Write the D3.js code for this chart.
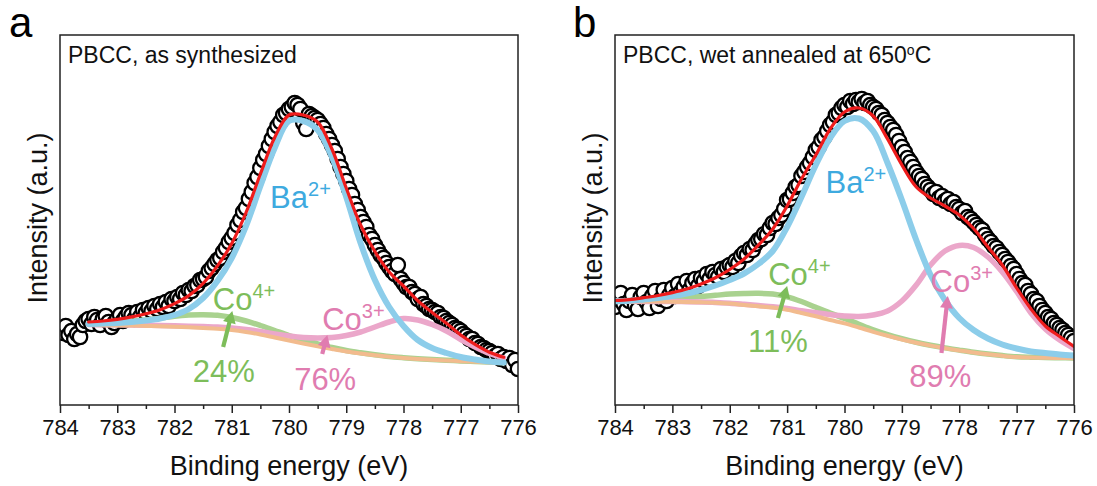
<!DOCTYPE html>
<html><head><meta charset="utf-8">
<script src="https://cdn.jsdelivr.net/npm/d3@7"></script>
<style>
body{margin:0;background:#fff}
svg{display:block}
text{font-family:"Liberation Sans",Arial,Helvetica,sans-serif}
</style>
</head><body>
<svg id="chart" width="1097" height="486"></svg>
<script>
// ---------------- DATA ----------------
const tickLabels = [784, 783, 782, 781, 780, 779, 778, 777, 776];
const minorTicks = [783.5, 782.5, 781.5, 780.5, 779.5, 778.5, 777.5, 776.5];

// measured scan: 784 -> 776 eV, 0.05 eV step
const scanEnergy = d3.range(161).map(i => +(784 - 0.05 * i).toFixed(2));

// Panel a : PBCC, as synthesized
const fitEnergyA = [783.5, 783.25, 783, 782.75, 782.5, 782.25, 782, 781.75, 781.5, 781.25, 781, 780.75, 780.5, 780.25, 780, 779.75, 779.5, 779.25, 779, 778.75, 778.5, 778.25, 778, 777.75, 777.5, 777.25, 777, 776.75, 776.5, 776.25];
const backgroundA = [80, 79.8, 79.6, 79.4, 79.1, 78.8, 78.3, 77.7, 77, 76.3, 75, 73, 70.5, 67.5, 64.5, 61.5, 58.7, 56, 53.5, 51.5, 49.7, 48.2, 47, 46, 45.2, 44.5, 43.8, 43.2, 42.6, 42];
const co4A = [81.5, 81.8, 82.6, 83.9, 85.1, 86.8, 88.8, 90, 90.3, 89.7, 87.5, 84, 79.5, 74.5, 69.5, 65, 61.2, 57.5, 54.5, 52.2, 50.2, 48.5, 47.3, 46.3, 45.5, 44.8, 44.1, 43.5, 42.9, 42.3];
const co3A = [80.5, 80.3, 80.2, 80, 79.8, 79.6, 79.2, 78.8, 78.4, 78, 77, 75.5, 73.5, 71, 69, 67.5, 67, 67.5, 69.5, 73, 78, 83, 86.5, 85, 80.5, 74, 65.5, 58, 51.5, 47];
const ba2A = [81, 81.5, 82, 83, 84.5, 86.5, 90, 96, 107, 124, 147, 179, 219, 257, 284, 284, 275, 248, 208, 162, 125, 98, 79, 65, 57, 52, 48, 45.5, 43.5, 42.5];
const envelopeA = [83, 84, 85.6, 88.1, 91.2, 95.3, 101.4, 109.4, 121.7, 139.1, 161.5, 192.5, 231, 267.5, 290, 290, 283, 256, 217, 180, 153.5, 133, 119, 104.3, 92.6, 81.8, 70, 60.6, 52.8, 47.8];
const measuredA = [
  76, 72, 79, 70, 74, 66, 71, 68, 80, 84,
  86, 81, 88, 85, 80, 86, 89, 83, 78, 82,
  86, 90, 84, 88, 92, 90, 86, 93, 88, 95,
  92, 97, 94, 99, 96, 101, 98, 103, 99, 106,
  104, 108, 106, 112, 110, 115, 114, 119, 120, 125,
  126, 128, 134, 137, 141, 145, 147, 153, 157, 163,
  167, 172, 180, 185, 193, 197, 206, 213, 222, 228,
  237, 245, 251, 259, 266, 273, 279, 283, 290, 292,
  296, 298, 302, 300, 296, 282, 276, 291, 289, 287,
  285, 281, 277, 271, 266, 260, 254, 246, 238, 231,
  224, 216, 210, 201, 195, 188, 183, 178, 170, 166,
  160, 155, 150, 147, 142, 138, 134, 131, 140, 126,
  122, 118, 118, 113, 111, 106, 108, 101, 99, 96,
  95, 93, 92, 88, 87, 84, 82, 80, 77, 76,
  74, 71, 69, 66, 66, 62, 61, 58, 57, 55,
  54, 52, 49, 51, 46, 48, 44, 47, 40, 45,
  36];

// Panel b : PBCC, wet annealed at 650 oC
const fitEnergyB = [784, 783.75, 783.5, 783.25, 783, 782.75, 782.5, 782.25, 782, 781.75, 781.5, 781.25, 781, 780.75, 780.5, 780.25, 780, 779.75, 779.5, 779.25, 779, 778.75, 778.5, 778.25, 778, 777.75, 777.5, 777.25, 777, 776.75, 776.5, 776.25, 776];
const backgroundB = [103.5, 103.5, 103.4, 103.4, 103.3, 103.1, 102.7, 102.2, 101.4, 100, 98.7, 97.4, 95.2, 92, 88.7, 85, 81.6, 77.5, 73.2, 69.2, 65.5, 62.2, 59.4, 56.8, 54.6, 52.5, 50.7, 49.2, 48, 47.5, 47.2, 47, 46.8];
const co4B = [104.1, 104.5, 105, 105.7, 106.5, 107.4, 108.5, 109.7, 110.9, 111.5, 111.7, 110.9, 108.2, 103.5, 97.7, 92, 86.6, 80.8, 75.2, 70.4, 66.3, 62.7, 59.7, 57.1, 54.9, 52.8, 51, 49.5, 48.3, 47.8, 47.5, 47.3, 47.1];
const co3B = [103.7, 103.7, 103.6, 103.6, 103.5, 103.3, 103, 102.5, 101.8, 100.7, 99.5, 98.3, 96.5, 94.2, 92.2, 90.4, 89, 88.5, 90, 94, 104, 120, 140, 154, 159.5, 157.5, 148, 133, 113.5, 92, 76, 65, 56.5];
const ba2B = [103.7, 104.2, 105.5, 107, 109, 111.5, 115, 119.5, 125, 131.5, 141, 154, 178, 208, 240, 267, 284, 286.5, 274, 242, 205, 165, 130, 105, 87, 75, 66.5, 60.5, 56.5, 53.5, 52, 50.5, 49.5];
const envelopeB = [104.5, 105.4, 107.3, 109.5, 112.4, 116, 121, 127.3, 135.5, 146, 160, 176, 199, 226, 250, 276, 293, 297, 289, 266, 240, 218, 207, 199, 190, 176.5, 158, 140, 117, 96, 79, 68.5, 58.5];
const measuredB = [
  98, 106, 112, 101, 95, 104, 110, 100, 96, 108,
  112, 103, 97, 109, 114, 99, 106, 115, 104, 110,
  117, 109, 121, 113, 118, 124, 115, 122, 126, 119,
  127, 124, 131, 126, 133, 130, 128, 136, 133, 138,
  140, 138, 144, 142, 149, 152, 150, 156, 155, 161,
  165, 166, 171, 170, 177, 182, 181, 187, 190, 196,
  205, 206, 212, 218, 220, 229, 233, 238, 242, 248,
  255, 258, 265, 268, 274, 280, 283, 290, 292, 297,
  300, 298, 304, 301, 305, 303, 306, 302, 304, 300,
  298, 296, 292, 290, 285, 282, 278, 275, 270, 264,
  258, 253, 247, 243, 238, 233, 229, 226, 221, 218,
  215, 211, 213, 207, 209, 204, 206, 201, 203, 198,
  196, 192, 194, 188, 186, 183, 180, 177, 175, 170,
  166, 163, 159, 157, 153, 150, 146, 143, 139, 136,
  131, 126, 122, 120, 114, 111, 106, 104, 99, 95,
  92, 88, 86, 82, 80, 77, 75, 72, 70, 67,
  64];

// annotations (energy, intensity)
const labelsA = [
  {main: "Ba", sup: "2+", e: 780.33, v: 197, kind: "ba"},
  {main: "Co", sup: "4+", e: 781.33, v: 95, kind: "co4"},
  {main: "24%", sup: "", e: 781.68, v: 23, kind: "co4"},
  {main: "Co", sup: "3+", e: 779.42, v: 75, kind: "co3"},
  {main: "76%", sup: "", e: 779.91, v: 15, kind: "co3"}
];
const arrowsA = [
  {e0: 781.15, v0: 58, e1: 780.99, v1: 94, kind: "co4"},
  {e0: 779.42, v0: 51, e1: 779.33, v1: 70, kind: "co3"}
];
const labelsB = [
  {main: "Ba", sup: "2+", e: 780.33, v: 212, kind: "ba"},
  {main: "Co", sup: "4+", e: 781.33, v: 120, kind: "co4"},
  {main: "11%", sup: "", e: 781.68, v: 53, kind: "co4"},
  {main: "Co", sup: "3+", e: 778.5, v: 113, kind: "co3"},
  {main: "89%", sup: "", e: 778.87, v: 18, kind: "co3"}
];
const arrowsB = [
  {e0: 781.16, v0: 87, e1: 781.0, v1: 119, kind: "co4"},
  {e0: 778.31, v0: 52, e1: 778.2, v1: 109, kind: "co3"}
];

// ---------------- STYLE ----------------
const lineColor = {bg: "#f2bb8e", co4: "#a9d28f", co3: "#eba7ca", ba: "#8ccdea", fit: "#ee1c1c"};
const textColor = {ba: "#3eaadf", co4: "#7dbd5a", co3: "#e07cb0"};

const svg = d3.select("#chart");
const plotTop = 35, plotBottom = 405;

const panels = [
  {letter: "a", lx: 9, x0: 60, x1: 518, ytitleX: 47,
   title: [{t: "PBCC, as synthesized"}],
   fitE: fitEnergyA, bg: backgroundA, co4: co4A, co3: co3A, ba: ba2A, fit: envelopeA, data: measuredA,
   labels: labelsA, arrows: arrowsA},
  {letter: "b", lx: 573, x0: 615, x1: 1074, ytitleX: 602,
   title: [{t: "PBCC, wet annealed at 650"}, {t: "o", sup: true}, {t: "C"}],
   fitE: fitEnergyB, bg: backgroundB, co4: co4B, co3: co3B, ba: ba2B, fit: envelopeB, data: measuredB,
   labels: labelsB, arrows: arrowsB}
];

panels.forEach((p, pi) => {
  const x = d3.scaleLinear().domain([784, 776]).range([p.x0, p.x1]);
  const y = d3.scaleLinear().domain([0, 370]).range([plotBottom, plotTop]);
  const g = svg.append("g");

  const clipId = "clip" + pi;
  svg.append("clipPath").attr("id", clipId).append("rect")
    .attr("x", p.x0).attr("y", plotTop).attr("width", p.x1 - p.x0).attr("height", plotBottom - plotTop);

  const plot = g.append("g").attr("clip-path", `url(#${clipId})`);

  // measured points
  plot.append("g").selectAll("circle").data(p.data).join("circle")
    .attr("cx", (d, i) => x(scanEnergy[i]))
    .attr("cy", d => y(d))
    .attr("r", 7.2)
    .attr("fill", "#fff")
    .attr("stroke", "#000")
    .attr("stroke-width", 2.3);

  const line = arr => d3.line()
    .x((d, i) => x(p.fitE[i]))
    .y(d => y(d))
    .curve(d3.curveCatmullRom.alpha(0.5))(arr);

  const comps = [
    {arr: p.co4, c: lineColor.co4, w: 5.5},
    {arr: p.co3, c: lineColor.co3, w: 5.5},
    {arr: p.bg, c: lineColor.bg, w: 4},
    {arr: p.ba, c: lineColor.ba, w: 6},
    {arr: p.fit, c: lineColor.fit, w: 3.2}
  ];
  comps.forEach(cp => {
    plot.append("path").attr("d", line(cp.arr))
      .attr("fill", "none").attr("stroke", cp.c).attr("stroke-width", cp.w)
      .attr("stroke-linecap", "round").attr("stroke-linejoin", "round");
  });

  // arrows
  p.arrows.forEach(a => {
    const X0 = x(a.e0), Y0 = y(a.v0), X1 = x(a.e1), Y1 = y(a.v1);
    const dx = X1 - X0, dy = Y1 - Y0, L = Math.hypot(dx, dy);
    const ux = dx / L, uy = dy / L, nx = -uy, ny = ux;
    const hl = 12, hw = 6.5;
    const bx = X1 - ux * hl, by = Y1 - uy * hl;
    g.append("line").attr("x1", X0).attr("y1", Y0).attr("x2", bx + ux).attr("y2", by + uy)
      .attr("stroke", textColor[a.kind]).attr("stroke-width", 4.2);
    g.append("path")
      .attr("d", `M${X1},${Y1}L${bx + nx * hw},${by + ny * hw}L${bx - nx * hw},${by - ny * hw}Z`)
      .attr("fill", textColor[a.kind]);
  });

  // labels
  p.labels.forEach(l => {
    const t = g.append("text").attr("x", x(l.e)).attr("y", y(l.v))
      .attr("fill", textColor[l.kind]).attr("font-size", 31);
    t.append("tspan").text(l.main);
    if (l.sup) t.append("tspan").attr("font-size", 20).attr("dy", -12).text(l.sup);
  });

  // frame
  g.append("rect").attr("x", p.x0).attr("y", plotTop)
    .attr("width", p.x1 - p.x0).attr("height", plotBottom - plotTop)
    .attr("fill", "none").attr("stroke", "#222").attr("stroke-width", 1.5);

  // axes
  const ax = g.append("g").attr("transform", `translate(0,${plotBottom})`)
    .call(d3.axisBottom(x).tickValues(tickLabels).tickSize(8).tickPadding(6).tickFormat(d3.format("d")));
  ax.select(".domain").remove();
  ax.selectAll("line").attr("stroke", "#222").attr("stroke-width", 1.5);
  ax.selectAll("text").attr("font-size", 22).attr("fill", "#111")
    .style("font-family", '"Liberation Sans",Arial,sans-serif');
  const axm = g.append("g").attr("transform", `translate(0,${plotBottom})`)
    .call(d3.axisBottom(x).tickValues(minorTicks).tickSize(4).tickFormat(""));
  axm.select(".domain").remove();
  axm.selectAll("line").attr("stroke", "#222").attr("stroke-width", 1.5);

  // axis titles
  g.append("text").attr("x", (p.x0 + p.x1) / 2).attr("y", 475)
    .attr("text-anchor", "middle").attr("font-size", 27).attr("fill", "#111")
    .text("Binding energy (eV)");
  g.append("text")
    .attr("transform", `translate(${p.ytitleX},${(plotTop + plotBottom) / 2 - 2}) rotate(-90)`)
    .attr("text-anchor", "middle").attr("font-size", 27).attr("fill", "#111")
    .text("Intensity (a.u.)");

  // panel title
  const tt = g.append("text").attr("x", p.x0 + 8).attr("y", 63).attr("font-size", 23).attr("fill", "#111");
  let raised = false;
  p.title.forEach(part => {
    const ts = tt.append("tspan").text(part.t);
    if (part.sup) { ts.attr("font-size", 14).attr("dy", -8); raised = true; }
    else if (raised) { ts.attr("dy", 8); raised = false; }
  });

  // panel letter
  g.append("text").attr("x", p.lx).attr("y", 37).attr("font-size", 42).attr("fill", "#000").text(p.letter);
});
</script>
</body></html>
